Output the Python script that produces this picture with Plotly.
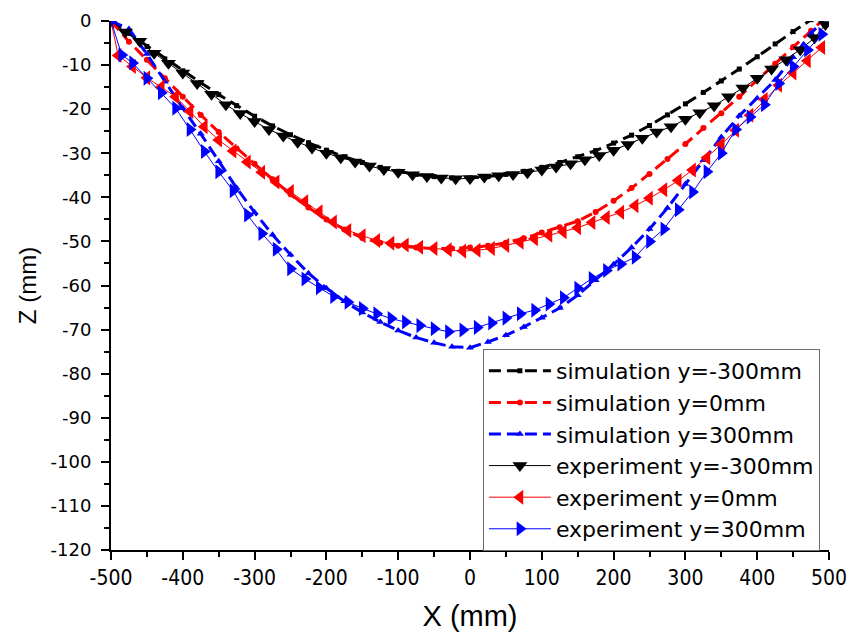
import plotly.graph_objects as go

# ---- simulated surface profiles (25 mm node spacing) ----
sim_x = [-500, -475, -450, -425, -400, -375, -350, -325, -300, -275, -250, -225,
         -200, -175, -150, -125, -100, -75, -50, -25, 0, 25, 50, 75, 100, 125,
         150, 175, 200, 225, 250, 275, 300, 325, 350, 375, 400, 425, 450, 475, 500]

sim_neg300 = [0, -2.8, -5.8, -8.6, -11.3, -14.0, -16.7, -19.2, -21.6, -23.8, -25.8, -27.6,
              -29.3, -30.8, -32.1, -33.2, -34.1, -34.8, -35.3, -35.6, -35.6, -35.3, -34.8,
              -34.1, -33.2, -32.1, -30.8, -29.4, -27.7, -25.9, -23.7, -21.3, -18.8, -16.2,
              -13.6, -10.9, -8.1, -5.2, -2.4, 0.3, 3.0]

sim_0 = [0, -4.7, -8.8, -13.0, -17.2, -21.3, -25.2, -28.9, -32.4, -35.9, -39.3, -42.3,
         -45.0, -47.3, -49.2, -50.3, -51.0, -51.4, -51.6, -51.6, -51.4, -51.0, -50.3,
         -49.3, -48.0, -46.8, -45.4, -43.3, -40.8, -37.9, -34.7, -31.3, -27.9, -24.3,
         -20.9, -17.2, -13.4, -9.7, -5.9, -2.2, 1.5]

sim_pos300 = [0, -1.8, -7.5, -13.8, -19.8, -25.6, -31.8, -37.9, -43.4, -48.5, -53.0, -57.2,
              -60.6, -63.6, -66.1, -68.3, -70.2, -71.8, -73.0, -73.9, -74.1, -72.8, -71.3,
              -69.4, -67.3, -65.1, -62.2, -58.8, -55.2, -51.4, -47.2, -42.4, -37.0, -31.6,
              -26.3, -21.5, -17.5, -13.4, -8.2, -2.8, 1.5]

# ---- measured profiles ----
exp_neg300_x = [-500, -480, -460, -440, -420, -400, -380, -360, -340, -320, -300, -280,
                -260, -240, -220, -200, -180, -160, -140, -120, -100, -80, -60, -40, -20,
                0, 20, 40, 60, 80, 100, 120, 140, 160, 180, 200, 220, 240, 260, 280, 300,
                320, 340, 360, 380, 400, 420, 440, 460, 480, 495]
exp_neg300 = [0, -2.5, -4.6, -7.3, -9.6, -11.8, -14.2, -16.6, -19.0, -21.0, -22.8, -24.6,
              -26.1, -27.5, -28.8, -30.0, -31.0, -32.0, -32.9, -33.7, -34.3, -34.9, -35.3,
              -35.6, -35.8, -35.7, -35.4, -35.1, -34.8, -34.4, -33.8, -33.1, -32.4, -31.5,
              -30.5, -29.3, -28.0, -26.6, -25.2, -24.0, -22.3, -20.8, -19.2, -17.2, -15.2,
              -13.0, -10.9, -8.8, -6.5, -3.8, -0.8]

exp_0_x = [-500, -490, -470, -450, -430, -410, -390, -370, -350, -330, -310, -290, -270,
           -250, -230, -210, -190, -170, -150, -130, -110, -90, -70, -50, -30, -10, 10,
           30, 50, 70, 90, 110, 130, 150, 170, 190, 210, 230, 250, 270, 290, 310, 330,
           350, 370, 390, 410, 430, 450, 470, 490]
exp_0 = [0, -7.8, -10.3, -12.9, -15.0, -17.2, -20.5, -24.0, -27.0, -29.5, -32.0, -34.3,
         -36.5, -38.7, -41.0, -43.3, -45.6, -47.5, -48.7, -49.8, -50.4, -50.8, -51.3,
         -51.6, -51.9, -52.2, -52.0, -51.6, -50.9, -50.2, -49.4, -48.6, -47.8, -46.9,
         -45.7, -44.6, -43.4, -41.9, -40.2, -38.3, -36.2, -33.8, -31.0, -28.0, -24.8,
         -21.4, -17.8, -14.6, -11.8, -9.0, -6.0]

exp_pos300_x = [-500, -485, -470, -450, -430, -410, -390, -370, -350, -330, -310, -290,
                -270, -250, -230, -210, -190, -170, -150, -130, -110, -90, -70, -50, -30,
                -10, 10, 30, 50, 70, 90, 110, 130, 150, 170, 190, 210, 230, 250, 270, 290,
                310, 330, 350, 370, 390, 410, 430, 450, 470, 490]
exp_pos300 = [0, -7.7, -9.5, -13.0, -16.3, -19.8, -24.6, -29.6, -34.2, -38.5, -44.0, -48.2,
              -51.8, -56.2, -58.5, -60.5, -62.5, -63.8, -65.2, -66.4, -67.5, -68.3, -69.1,
              -69.8, -70.5, -70.1, -69.5, -68.5, -67.4, -66.4, -65.6, -64.2, -62.8, -60.6,
              -58.4, -56.6, -55.1, -53.6, -50.0, -47.2, -42.8, -38.8, -34.2, -30.0, -24.6,
              -21.8, -19.0, -14.2, -10.3, -6.6, -3.0]

# ---- tick labels (plain hyphen minus signs) ----
x_ticks = [-500, -400, -300, -200, -100, 0, 100, 200, 300, 400, 500]
x_ticklabels = ["-500", "-400", "-300", "-200", "-100", "0", "100", "200", "300", "400", "500"]
z_ticks = [0, -10, -20, -30, -40, -50, -60, -70, -80, -90, -100, -110, -120]
z_ticklabels = ["0", "-10", "-20", "-30", "-40", "-50", "-60", "-70", "-80", "-90",
                "-100", "-110", "-120"]

SANS = "Liberation Sans, Arial, sans-serif"
WIDE = "DejaVu Sans, Liberation Sans, sans-serif"
NARROW = "Liberation Sans Narrow, DejaVu Sans Condensed, Arial Narrow, Liberation Sans, sans-serif"
BLACK, RED, BLUE = "#000000", "#ff0000", "#0000ff"
DASH = "12px,6px"

fig = go.Figure()

sim_series = [
    ("simulation y=-300mm", sim_neg300, BLACK, "square", 5),
    ("simulation y=0mm", sim_0, RED, "circle", 6),
    ("simulation y=300mm", sim_pos300, BLUE, "triangle-up", 7),
]
for name, z, color, symbol, size in sim_series:
    fig.add_trace(go.Scatter(
        x=sim_x, y=z, name=name, mode="lines+markers",
        line=dict(color=color, width=3, dash=DASH),
        marker=dict(symbol=symbol, size=size, color=color),
    ))

exp_series = [
    ("experiment y=-300mm", exp_neg300_x, exp_neg300, BLACK, "triangle-down"),
    ("experiment y=0mm", exp_0_x, exp_0, RED, "triangle-left"),
    ("experiment y=300mm", exp_pos300_x, exp_pos300, BLUE, "triangle-right"),
]
for name, x, z, color, symbol in exp_series:
    fig.add_trace(go.Scatter(
        x=x, y=z, name=name, mode="lines+markers",
        line=dict(color=color, width=1),
        marker=dict(symbol=symbol, size=13, color=color),
    ))

axis_common = dict(showgrid=False, zeroline=False, showline=True, automargin=False,
                   linecolor="black", linewidth=2, tickcolor="black", tickwidth=2)

fig.update_layout(
    template="none",
    width=847, height=632,
    margin=dict(l=111, r=18, t=21, b=82),
    paper_bgcolor="white", plot_bgcolor="white",
    font=dict(family=SANS, color="black"),
    showlegend=True,
    legend=dict(
        x=0.518, y=0.38, xanchor="left", yanchor="top",
        bgcolor="white", bordercolor="#6e6e6e", borderwidth=1,
        font=dict(family=WIDE, size=22, color="black"),
        itemwidth=62, tracegroupgap=0,
    ),
    xaxis=dict(
        range=[-500, 500], tickmode="array", tickvals=x_ticks, ticktext=x_ticklabels,
        ticks="outside", ticklen=8, ticklabeloverflow="allow",
        minor=dict(dtick=50, ticks="outside", ticklen=5, tickwidth=2, tickcolor="black"),
        tickfont=dict(family=NARROW, size=21),
        title=dict(text="X (mm)", font=dict(family=SANS, size=29), standoff=27),
        **axis_common,
    ),
    yaxis=dict(
        range=[-120, 0], tickmode="array", tickvals=z_ticks, ticktext=z_ticklabels,
        ticks="outside", ticklen=8, ticklabelstandoff=6, ticklabeloverflow="allow",
        minor=dict(dtick=5, ticks="outside", ticklen=5, tickwidth=2, tickcolor="black"),
        tickfont=dict(family=WIDE, size=18),
        title=dict(text="Z (mm)", font=dict(family=SANS, size=24), standoff=7),
        **axis_common,
    ),
    xaxis2=dict(
        overlaying="x", side="top", anchor="y",
        range=[-500, 500], dtick=100, ticks="inside", ticklen=9,
        showticklabels=False, **axis_common,
    ),
    yaxis2=dict(
        overlaying="y", side="right", anchor="x",
        range=[-120, 0], tick0=0, dtick=12, ticks="inside", ticklen=7,
        showticklabels=False, **axis_common,
    ),
)

fig.write_html("out.html")
